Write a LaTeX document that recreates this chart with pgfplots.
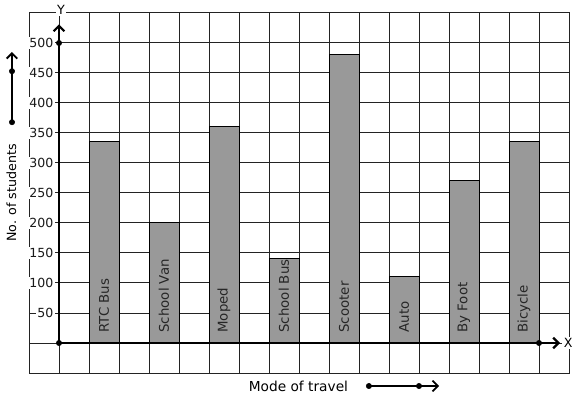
\documentclass[border=0pt]{standalone}
\usepackage{pgfplots}
\pgfplotsset{compat=1.18}
\usepackage{fontspec}
\setmainfont{DejaVu Sans}
\usetikzlibrary{arrows.meta}
\definecolor{barfill}{RGB}{153,153,153}
\definecolor{gridc}{RGB}{35,35,35}
\begin{document}
\begin{tikzpicture}
\useasboundingbox (0,0) rectangle (432.75pt,299.25pt);
\begin{axis}[
  at={(21.75pt,19.5pt)}, anchor=south west,
  scale only axis, width=405pt, height=270pt,
  xmin=-1, xmax=17, ymin=-50, ymax=550,
  clip=false,
  axis background/.style={fill=white},
  axis line style={gridc, line width=0.75pt},
  grid=major,
  major grid style={gridc, line width=0.75pt},
  major tick length=0pt,
  xtick={-1,0,...,17}, xticklabels={},
  ytick={50,100,...,500},
  yticklabels={50,100,150,200,250,300,350,400,450,500},
  extra y ticks={-50,0,550},
  extra y tick labels={},
  extra y tick style={grid=major, yticklabel style={fill=none}},
  yticklabel style={anchor=east, xshift=19.5pt, fill=white, inner sep=1pt,
    font=\fontsize{9.4pt}{10pt}\selectfont, text=black!90},
  /pgf/number format/assume math mode=true,
  font=\fontsize{9pt}{10pt}\selectfont,
]
% bars
\addplot[ybar, bar width=1, bar shift=0pt, fill=barfill, draw=black, line width=0.75pt]
  coordinates {(1.5,335) (3.5,200) (5.5,360) (7.5,140) (9.5,480) (11.5,110) (13.5,270) (15.5,335)};
% bar labels
\addplot[draw=none, mark=none, nodes near coords, point meta=explicit symbolic,
  nodes near coords style={rotate=90, anchor=west, inner sep=0pt, text=black!85,
    font=\fontsize{10pt}{11pt}\selectfont}]
  table[meta=label, col sep=comma] {
x,y,label
1.5,17,RTC Bus
3.5,17,School Van
5.5,17,Moped
7.5,17,School Bus
9.5,17,Scooter
11.5,17,Auto
13.5,17,By Foot
15.5,17,Bicycle
};
% axes
\addplot[black, line width=1.6pt, -{Straight Barb[length=4pt,width=8pt]}] coordinates {(0,0) (16.7,0)};
\addplot[black, line width=1.6pt, -{Straight Barb[length=4pt,width=8pt]}] coordinates {(0,0) (0,531)};
\addplot[only marks, mark=*, mark size=2pt, black] coordinates {(0,0) (0,500) (16,0)};
% side arrows
\addplot[black, line width=1.4pt, -{Straight Barb[length=4pt,width=8pt]}] coordinates {(-1.567,368) (-1.567,485)};
\addplot[only marks, mark=*, mark size=2pt, black] coordinates {(-1.567,368) (-1.567,453)};
\addplot[black, line width=1.3pt, -{Straight Barb[length=4pt,width=8pt]}] coordinates {(10.33,-71.7) (12.67,-71.7)};
\addplot[only marks, mark=*, mark size=2pt, black] coordinates {(10.33,-71.7) (12.0,-71.7)};
% labels
\node[fill=white, inner sep=1pt, font=\fontsize{9.5pt}{10pt}\selectfont] at (axis cs:0.067,555) {Y};
\node[fill=white, inner sep=1pt, font=\fontsize{9.5pt}{10pt}\selectfont] at (axis cs:16.97,0) {X};
\node[rotate=90, font=\fontsize{9.5pt}{10pt}\selectfont] at (axis cs:-1.583,250) {No. of students};
\node[font=\fontsize{10.3pt}{11pt}\selectfont] at (axis cs:7.98,-71.7) {Mode of travel};
\end{axis}
\end{tikzpicture}
\end{document}
